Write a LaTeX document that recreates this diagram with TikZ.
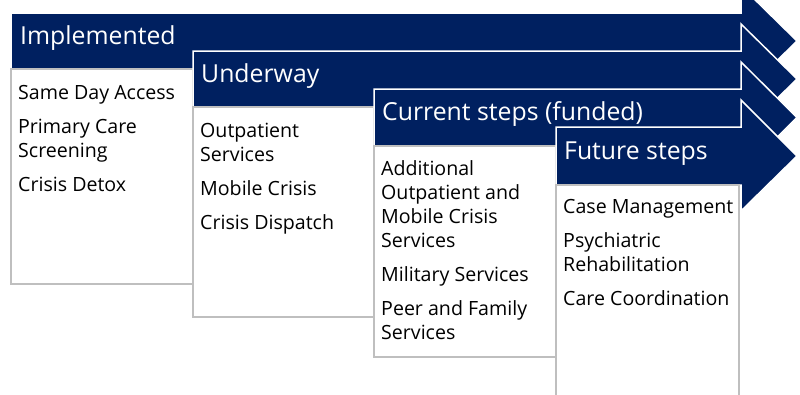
\documentclass[tikz,border=0pt]{standalone}
\usepackage{fontspec}
\setmainfont{Open Sans}
\definecolor{navy}{HTML}{002060}
\definecolor{boxgray}{HTML}{BFBFBF}
\begin{document}
\begin{tikzpicture}[x=1pt,y=-1pt,
 arrowshape/.style={fill=navy, draw=white, line width=1.5pt, line join=miter},
 panel/.style={draw=boxgray, line width=1.5pt, fill=white, anchor=north west, inner sep=0, outer sep=0},
 head/.style={text=white, font=\fontsize{24.8}{28}\selectfont, anchor=base west, inner sep=0},
 item/.style={text=black, font=\fontsize{19.6}{24}\selectfont, anchor=base west, inner sep=0}]
\useasboundingbox (0,0) rectangle (800,394);
\clip (0,0) rectangle (800,394);
% stage 1
\draw[arrowshape] (11,13) -- (741,13) -- (741,-14) -- (797,41) -- (741,96) -- (741,69) -- (11,69) -- cycle;
\node[head] (h1) at (20,44) {Implemented};
\node[panel, minimum width=182, minimum height=215] (box1) at (11,69) {};
\node[item] (t11) at (18,99) {Same Day Access};
\node[item] (t12) at (18,133) {Primary Care};
\node[item] (t13) at (18,157) {Screening};
\node[item] (t14) at (18,191) {Crisis Detox};
% stage 2
\draw[arrowshape] (193,51) -- (741,51) -- (741,24) -- (797,79) -- (741,134) -- (741,107) -- (193,107) -- cycle;
\node[head] (h2) at (201,82) {Underway};
\node[panel, minimum width=181, minimum height=210] (box2) at (193,107) {};
\node[item] (t21) at (200,137) {Outpatient};
\node[item] (t22) at (200,161) {Services};
\node[item] (t23) at (200,195) {Mobile Crisis};
\node[item] (t24) at (200,229) {Crisis Dispatch};
% stage 3
\draw[arrowshape] (374,89) -- (741,89) -- (741,62) -- (797,117.5) -- (741,173) -- (741,146) -- (374,146) -- cycle;
\node[head] (h3) at (382,120) {Current steps (funded)};
\node[panel, minimum width=182, minimum height=211] (box3) at (374,146) {};
\node[item] (t31) at (381,175) {Additional};
\node[item] (t32) at (381,199) {Outpatient and};
\node[item] (t33) at (381,223) {Mobile Crisis};
\node[item] (t34) at (381,247) {Services};
\node[item] (t35) at (381,281) {Military Services};
\node[item] (t36) at (381,315) {Peer and Family};
\node[item] (t37) at (381,339) {Services};
% stage 4
\draw[arrowshape] (556,127) -- (741,127) -- (741,100) -- (797,156) -- (741,211) -- (741,185) -- (556,185) -- cycle;
\node[head] (h4) at (564,159) {Future steps};
\node[panel, minimum width=183, minimum height=220] (box4) at (556,185) {};
\node[item] (t41) at (563,213) {Case Management};
\node[item] (t42) at (563,247) {Psychiatric};
\node[item] (t43) at (563,271) {Rehabilitation};
\node[item] (t44) at (563,305) {Care Coordination};
\end{tikzpicture}
\end{document}
